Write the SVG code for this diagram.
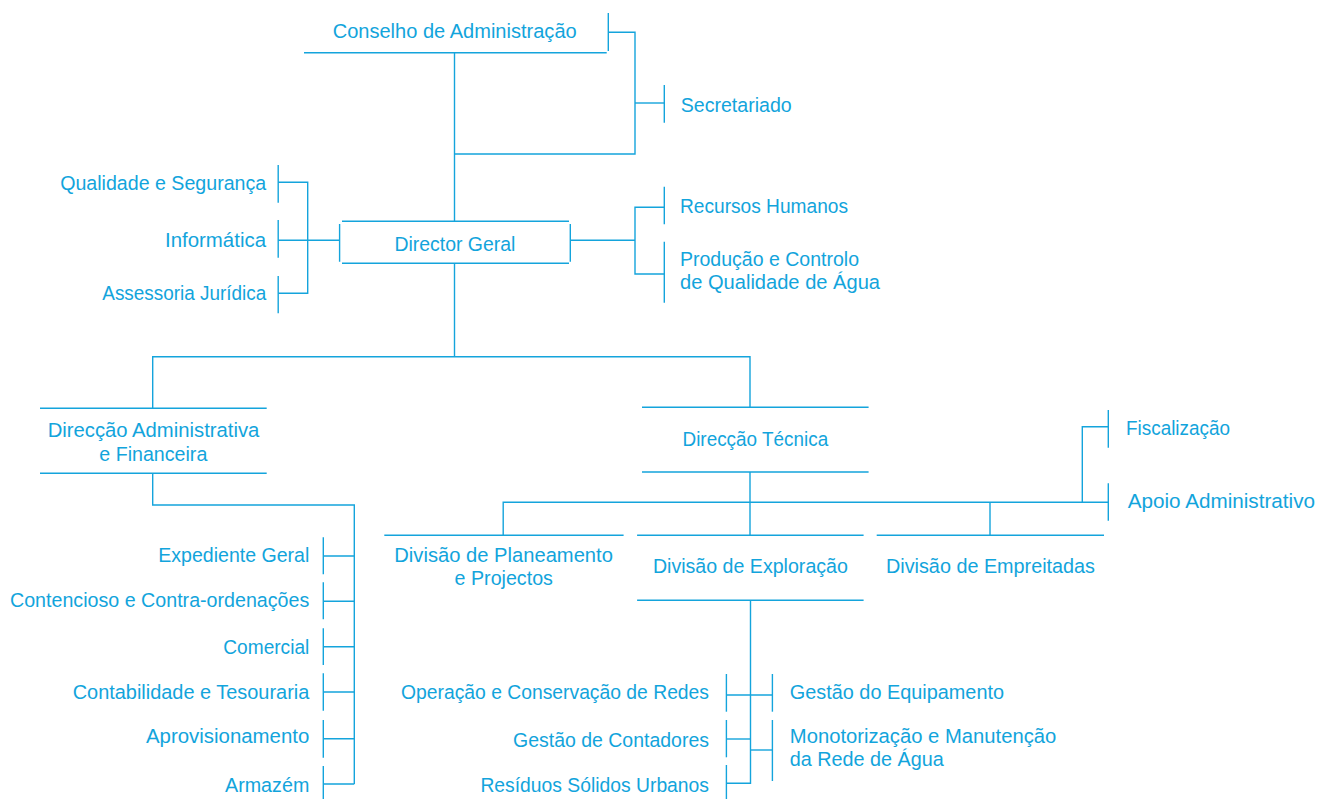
<svg xmlns="http://www.w3.org/2000/svg" width="1321" height="799" viewBox="0 0 1321 799">
<style>
text{font-family:"Liberation Sans",Arial,sans-serif;font-size:20.5px;fill:#12a4dc;}
line,polyline,path{stroke:#14a4dc;stroke-width:1.4;fill:none;}
</style>
<rect width="1321" height="799" fill="#ffffff"/>
<g id="connectors">
<path d="M454.5 52.7V221.3"/>
<path d="M608.3 32.3H635V154H454.5"/>
<path d="M635 103H664.3"/>
<path d="M278.2 182.3H307.7V293.3H278.2"/>
<path d="M278.2 240.3H339.6"/>
<path d="M570.3 240.3H635"/>
<path d="M664.3 207.3H635V274H664.3"/>
<path d="M454.5 263.3V356.7"/>
<path d="M152.7 408.3V356.7H750V407.3"/>
<path d="M152.7 473.3V505H354.3V784"/>
<path d="M323.3 556H354.3M323.3 601.3H354.3M323.3 646.7H354.3M323.3 692H354.3M323.3 738.7H354.3M323.3 784H354.3"/>
<path d="M750 472V535.3"/>
<path d="M503.2 535.3V502.3H1108.3"/>
<path d="M990 502.3V535.3"/>
<path d="M1082.3 502.3V426.7H1108.3"/>
<path d="M750.5 600.3V783.3H726.4"/>
<path d="M726.4 695H772.4"/>
<path d="M726.4 739H750.5"/>
<path d="M750.5 750H772.4"/>
</g>
<g id="conselho">
<path d="M304 52.7H606.7M608.3 13V51"/>
<text x="332.7" y="38" textLength="244" lengthAdjust="spacingAndGlyphs">Conselho de Administração</text>
</g>
<g id="secretariado">
<path d="M664.3 85V122.7"/>
<text x="680.7" y="112" textLength="111" lengthAdjust="spacingAndGlyphs">Secretariado</text>
</g>
<g id="qualidade">
<path d="M278.2 165V202.7"/>
<text x="60.2" y="190" textLength="206" lengthAdjust="spacingAndGlyphs">Qualidade e Segurança</text>
</g>
<g id="informatica">
<path d="M278.2 220V257.7"/>
<text x="165" y="247.3" textLength="101" lengthAdjust="spacingAndGlyphs">Informática</text>
</g>
<g id="assessoria">
<path d="M278.2 276V313.3"/>
<text x="102.3" y="300" textLength="164" lengthAdjust="spacingAndGlyphs">Assessoria Jurídica</text>
</g>
<g id="director-geral">
<path d="M342 221.3H569M342 263.3H569M339.6 224V261.7M570.3 224V261.7"/>
<text x="394.4" y="250.7" textLength="121" lengthAdjust="spacingAndGlyphs">Director Geral</text>
</g>
<g id="recursos-humanos">
<path d="M664.3 186.7V224.3"/>
<text x="680" y="213.3" textLength="168" lengthAdjust="spacingAndGlyphs">Recursos Humanos</text>
</g>
<g id="producao">
<path d="M664.3 241.7V302.7"/>
<text x="680" y="265.7" textLength="179" lengthAdjust="spacingAndGlyphs">Produção e Controlo</text>
<text x="680" y="289.3" textLength="200" lengthAdjust="spacingAndGlyphs">de Qualidade de Água</text>
</g>
<g id="daf">
<path d="M40 408.3H266.7M40 473.3H266.7"/>
<text x="47.7" y="436.7" textLength="211.6" lengthAdjust="spacingAndGlyphs">Direcção Administrativa</text>
<text x="99.3" y="460.7" textLength="108" lengthAdjust="spacingAndGlyphs">e Financeira</text>
</g>
<g id="direccao-tecnica">
<path d="M642 407.3H868.6M642 472H868.6"/>
<text x="682.5" y="445.7" textLength="145.7" lengthAdjust="spacingAndGlyphs">Direcção Técnica</text>
</g>
<g id="fiscalizacao">
<path d="M1108.3 410V447.7"/>
<text x="1126" y="435" textLength="104" lengthAdjust="spacingAndGlyphs">Fiscalização</text>
</g>
<g id="apoio">
<path d="M1108.3 483.3V520.7"/>
<text x="1127.7" y="508.3" textLength="187.3" lengthAdjust="spacingAndGlyphs">Apoio Administrativo</text>
</g>
<g id="planeamento">
<path d="M384.3 535.3H623.6"/>
<text x="394.3" y="561.7" textLength="218.6" lengthAdjust="spacingAndGlyphs">Divisão de Planeamento</text>
<text x="454.6" y="585" textLength="98.3" lengthAdjust="spacingAndGlyphs">e Projectos</text>
</g>
<g id="exploracao">
<path d="M637.1 535.3H863.6M637.1 600.3H863.6"/>
<text x="652.9" y="573.3" textLength="195" lengthAdjust="spacingAndGlyphs">Divisão de Exploração</text>
</g>
<g id="empreitadas">
<path d="M876.7 535.3H1104"/>
<text x="886" y="573.3" textLength="209" lengthAdjust="spacingAndGlyphs">Divisão de Empreitadas</text>
</g>
<g id="expediente">
<path d="M323.3 537.3V574.3"/>
<text x="158.3" y="561.7" textLength="151" lengthAdjust="spacingAndGlyphs">Expediente Geral</text>
</g>
<g id="contencioso">
<path d="M323.3 582.3V619.3"/>
<text x="10" y="607.3" textLength="299.3" lengthAdjust="spacingAndGlyphs">Contencioso e Contra-ordenações</text>
</g>
<g id="comercial">
<path d="M323.3 628.3V665"/>
<text x="223.3" y="654" textLength="86" lengthAdjust="spacingAndGlyphs">Comercial</text>
</g>
<g id="contabilidade">
<path d="M323.3 673.3V710.7"/>
<text x="72.7" y="699.3" textLength="236.6" lengthAdjust="spacingAndGlyphs">Contabilidade e Tesouraria</text>
</g>
<g id="aprovisionamento">
<path d="M323.3 720V757.7"/>
<text x="146" y="743.3" textLength="163.3" lengthAdjust="spacingAndGlyphs">Aprovisionamento</text>
</g>
<g id="armazem">
<path d="M323.3 766V799"/>
<text x="225" y="791.7" textLength="84.3" lengthAdjust="spacingAndGlyphs">Armazém</text>
</g>
<g id="operacao">
<path d="M726.4 674V711.7"/>
<text x="401" y="699.3" textLength="308" lengthAdjust="spacingAndGlyphs">Operação e Conservação de Redes</text>
</g>
<g id="gestao-equipamento">
<path d="M772.4 674V711.7"/>
<text x="789.8" y="699.3" textLength="214.2" lengthAdjust="spacingAndGlyphs">Gestão do Equipamento</text>
</g>
<g id="gestao-contadores">
<path d="M726.4 720V757.3"/>
<text x="513" y="746.7" textLength="196" lengthAdjust="spacingAndGlyphs">Gestão de Contadores</text>
</g>
<g id="monotorizacao">
<path d="M772.4 720V781"/>
<text x="789.8" y="742.7" textLength="266.5" lengthAdjust="spacingAndGlyphs">Monotorização e Manutenção</text>
<text x="789.8" y="765.7" textLength="154" lengthAdjust="spacingAndGlyphs">da Rede de Água</text>
</g>
<g id="residuos">
<path d="M726.4 765V799"/>
<text x="480.4" y="792.3" textLength="228.6" lengthAdjust="spacingAndGlyphs">Resíduos Sólidos Urbanos</text>
</g>
</svg>
